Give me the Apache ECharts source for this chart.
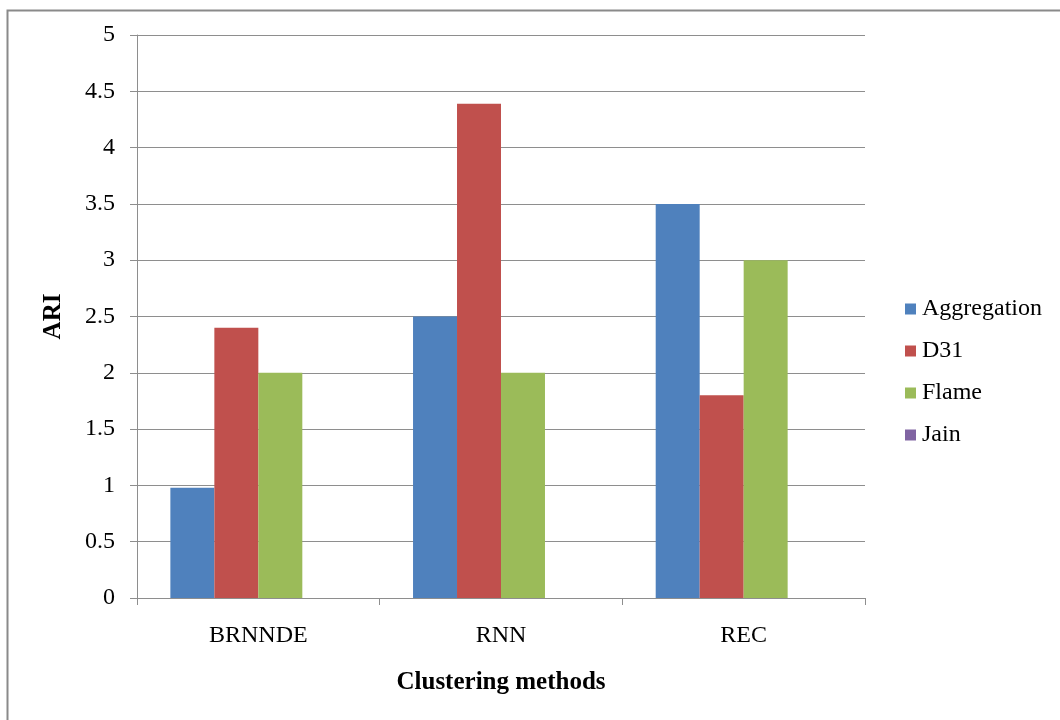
<!DOCTYPE html>
<html>
<head>
<meta charset="utf-8">
<title>ARI by clustering method</title>
<script src="https://cdn.jsdelivr.net/npm/echarts@6/dist/echarts.min.js"></script>
<style>
  html, body { margin: 0; padding: 0; background: #ffffff; }
  #chart { width: 1060px; height: 720px; }
</style>
</head>
<body>
<div id="chart"></div>
<script>
// Clustering methods on the x axis
const methods = ['BRNNDE', 'RNN', 'REC'];

// ARI per dataset, one value per method
const aggregation = [0.98, 2.5, 3.5];
const d31 = [2.4, 4.39, 1.8];
const flame = [2.0, 2.0, 3.0];
const jain = [0, 0, 0];

// Y axis range
const yMin = 0;
const yMax = 5;
const yStep = 0.5;

const FONT = '"Liberation Serif", "Times New Roman", serif';
const GRID_COLOR = '#8e8e8e';

const seriesDefs = [
  { name: 'Aggregation', data: aggregation, color: '#4F81BD' },
  { name: 'D31', data: d31, color: '#C0504D' },
  { name: 'Flame', data: flame, color: '#9BBB59' },
  { name: 'Jain', data: jain, color: '#8064A2' }
];

const chart = echarts.init(document.getElementById('chart'), null, { renderer: 'canvas' });

chart.setOption({
  backgroundColor: '#ffffff',
  animation: false,
  textStyle: { fontFamily: FONT, color: '#000' },
  graphic: [
    {
      // outer chart frame, open to the right and bottom
      type: 'rect',
      left: 5,
      top: 8,
      shape: { x: 0, y: 0, width: 1200, height: 900 },
      style: { fill: 'none', stroke: '#8a8a8a', lineWidth: 2 },
      silent: true
    }
  ],
  grid: { left: 137, right: 195, top: 35, bottom: 122, containLabel: false },
  legend: {
    orient: 'vertical',
    left: 905,
    top: 297,
    padding: 0,
    itemWidth: 11,
    itemHeight: 11,
    itemGap: 18,
    icon: 'rect',
    textStyle: { fontFamily: FONT, fontSize: 24, color: '#000', padding: [0, 0, 0, 1] },
    data: seriesDefs.map(s => s.name)
  },
  xAxis: {
    type: 'category',
    data: methods,
    name: 'Clustering methods',
    nameLocation: 'middle',
    nameGap: 72,
    nameTextStyle: { fontFamily: FONT, fontSize: 25, fontWeight: 'bold', color: '#000' },
    axisLine: { show: true, lineStyle: { color: GRID_COLOR, width: 1 } },
    axisTick: { show: true, alignWithLabel: false, length: 7, lineStyle: { color: GRID_COLOR } },
    axisLabel: { fontFamily: FONT, fontSize: 24, color: '#000', margin: 26 }
  },
  yAxis: {
    type: 'value',
    min: yMin,
    max: yMax,
    interval: yStep,
    name: 'ARI',
    nameLocation: 'middle',
    nameGap: 71,
    nameRotate: 90,
    nameTextStyle: { fontFamily: FONT, fontSize: 25, fontWeight: 'bold', color: '#000' },
    axisLine: { show: true, lineStyle: { color: GRID_COLOR, width: 1 } },
    axisTick: { show: true, inside: false, length: 7, lineStyle: { color: GRID_COLOR } },
    axisLabel: { fontFamily: FONT, fontSize: 24, color: '#000', margin: 22 },
    splitLine: { show: true, lineStyle: { color: GRID_COLOR, width: 1 } }
  },
  series: seriesDefs.map(s => ({
    name: s.name,
    type: 'bar',
    data: s.data,
    barGap: '0%',
    barCategoryGap: '27.5%',
    itemStyle: { color: s.color },
    emphasis: { disabled: true }
  }))
});
</script>
</body>
</html>
